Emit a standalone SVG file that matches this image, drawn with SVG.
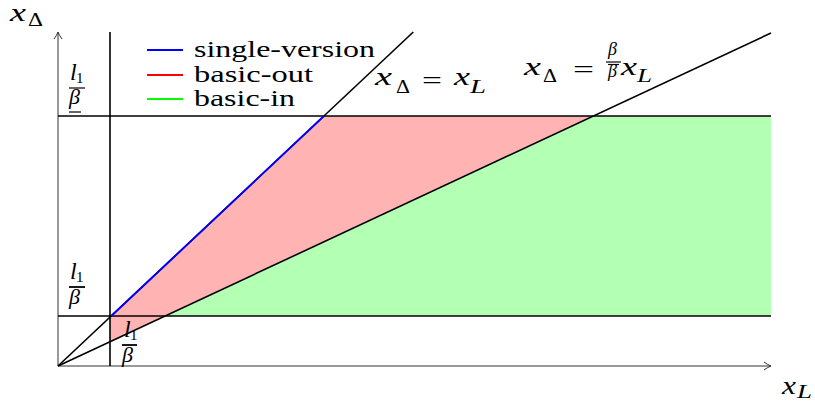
<svg xmlns="http://www.w3.org/2000/svg" width="815" height="403" viewBox="0 0 815 403">
<style>
text{font-family:'Liberation Serif','DejaVu Serif',serif;fill:#000}
.i{font-style:italic}
.ln{stroke:#000;stroke-width:1.6;fill:none}
.ax{stroke:#333;stroke-width:1;fill:none}
.bar{stroke:#000;stroke-width:1.2}
</style>
<defs>
<marker id="arr" viewBox="0 0 10 10" refX="9" refY="5" markerWidth="10" markerHeight="10" markerUnits="userSpaceOnUse" orient="auto">
<path d="M2,1 Q6,4 9,5 Q6,6 2,9" fill="none" stroke="#333" stroke-width="1"/>
</marker>
</defs>
<rect width="815" height="403" fill="#fff"/>
<g id="regions">
<polygon id="red-region" points="110,316 111.2,316 324,116 593,116 110,341.7" fill="#ffb3b3"/>
<polygon id="green-region" points="165,316 593,116 771,116 771,316" fill="#b3ffb3"/>
</g>
<g id="connectors">
<line class="ax" x1="58" y1="366" x2="771" y2="366" marker-end="url(#arr)"/>
<line class="ax" x1="58" y1="366" x2="58" y2="32" marker-end="url(#arr)"/>
<line class="ln" x1="110" y1="32" x2="110" y2="366"/>
<line class="ln" x1="58" y1="116" x2="771" y2="116"/>
<line class="ln" x1="58" y1="316" x2="771" y2="316"/>
<line class="ln" x1="58" y1="366" x2="413.3" y2="32"/>
<line class="ln" x1="58" y1="366" x2="771" y2="33"/>
<line x1="111.2" y1="316" x2="324" y2="116" stroke="#0000ff" stroke-width="1.8"/>
</g>
<g id="legend">
<line x1="147" y1="50" x2="183" y2="50" stroke="#0000ff" stroke-width="2"/>
<line x1="147" y1="75" x2="183" y2="75" stroke="#ff0000" stroke-width="2"/>
<line x1="147" y1="99" x2="183" y2="99" stroke="#00ff00" stroke-width="2"/>
<text x="194" y="57" font-size="24" textLength="181" lengthAdjust="spacingAndGlyphs">single-version</text>
<text x="194" y="82" font-size="24" textLength="119" lengthAdjust="spacingAndGlyphs">basic-out</text>
<text x="194" y="106" font-size="24" textLength="101" lengthAdjust="spacingAndGlyphs">basic-in</text>
</g>
<g id="axis-labels">
<text class="i" x="10" y="21" font-size="26" textLength="16" lengthAdjust="spacingAndGlyphs">x</text>
<text x="28" y="26" font-size="18" textLength="15" lengthAdjust="spacingAndGlyphs">Δ</text>
<text class="i" x="782" y="394" font-size="26" textLength="14" lengthAdjust="spacingAndGlyphs">x</text>
<text class="i" x="797" y="398" font-size="18" textLength="15" lengthAdjust="spacingAndGlyphs">L</text>
</g>
<g id="label-top">
<text class="i" x="70" y="80" font-size="24">l</text>
<text x="76" y="83" font-size="15">1</text>
<line class="bar" x1="69" y1="88" x2="85" y2="88"/>
<text class="i" x="69" y="104" font-size="22">β</text>
<line class="bar" x1="69" y1="112" x2="81" y2="112"/>
</g>
<g id="label-mid">
<text class="i" x="70" y="279" font-size="24">l</text>
<text x="76" y="282" font-size="15">1</text>
<line x1="69" y1="287" x2="85" y2="287" stroke="#000" stroke-width="1.8"/>
<text class="i" x="69" y="304" font-size="22">β</text>
</g>
<g id="label-low">
<text class="i" x="124" y="337" font-size="24">l</text>
<text x="130" y="340" font-size="15">1</text>
<line x1="122" y1="345" x2="137" y2="345" stroke="#000" stroke-width="1.8"/>
<text class="i" x="122" y="362" font-size="22">β</text>
</g>
<g id="eq1">
<text class="i" x="375" y="85" font-size="26" textLength="17" lengthAdjust="spacingAndGlyphs">x</text>
<text x="396" y="93" font-size="18" textLength="14" lengthAdjust="spacingAndGlyphs">Δ</text>
<text x="422" y="89" font-size="26" textLength="20" lengthAdjust="spacingAndGlyphs">=</text>
<text class="i" x="454" y="85" font-size="26" textLength="16" lengthAdjust="spacingAndGlyphs">x</text>
<text class="i" x="470" y="93" font-size="18" textLength="16" lengthAdjust="spacingAndGlyphs">L</text>
</g>
<g id="eq2">
<text class="i" x="524" y="75" font-size="26" textLength="17" lengthAdjust="spacingAndGlyphs">x</text>
<text x="543" y="82" font-size="18" textLength="14" lengthAdjust="spacingAndGlyphs">Δ</text>
<text x="573" y="78" font-size="26" textLength="21" lengthAdjust="spacingAndGlyphs">=</text>
<text class="i" x="608" y="55" font-size="18">β</text>
<line class="bar" x1="606" y1="62" x2="621" y2="62"/>
<line class="bar" x1="608" y1="64.5" x2="619" y2="64.5"/>
<text class="i" x="608" y="77" font-size="18">β</text>
<text class="i" x="621" y="75" font-size="26" textLength="16" lengthAdjust="spacingAndGlyphs">x</text>
<text class="i" x="637" y="82" font-size="18" textLength="15" lengthAdjust="spacingAndGlyphs">L</text>
</g>
</svg>
